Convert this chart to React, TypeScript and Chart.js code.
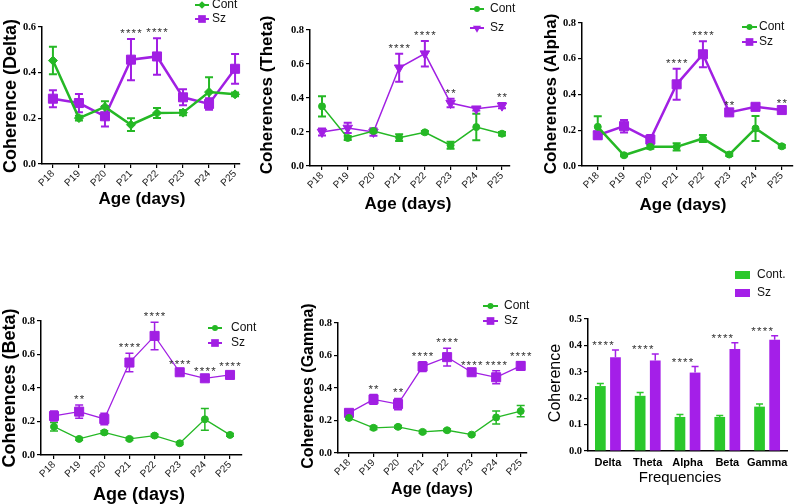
import React, { useEffect, useRef } from 'react';
import { Chart, registerables } from 'chart.js';
Chart.register(...registerables);

// ---------- DATA ----------
const ages = ['P18', 'P19', 'P20', 'P21', 'P22', 'P23', 'P24', 'P25'];

const deltaCont = [0.453, 0.201, 0.25, 0.172, 0.223, 0.225, 0.315, 0.305];
const deltaContErr = [0.06, 0.01, 0.025, 0.028, 0.022, 0.012, 0.065, 0.008];
const deltaSz = [0.286, 0.267, 0.209, 0.457, 0.471, 0.292, 0.263, 0.417];
const deltaSzErr = [0.037, 0.04, 0.045, 0.09, 0.08, 0.035, 0.025, 0.065];
const deltaStars = ['', '', '', '****', '****', '', '', ''];

const thetaCont = [0.351, 0.165, 0.206, 0.167, 0.198, 0.122, 0.229, 0.19];
const thetaContErr = [0.06, 0.012, 0.01, 0.02, 0.008, 0.02, 0.078, 0.01];
const thetaSz = [0.2, 0.224, 0.2, 0.578, 0.661, 0.37, 0.337, 0.355];
const thetaSzErr = [0.02, 0.03, 0.022, 0.083, 0.075, 0.025, 0.01, 0.015];
const thetaStars = ['', '', '', '****', '****', '**', '', '**'];

const alphaCont = [0.219, 0.06, 0.107, 0.107, 0.154, 0.064, 0.21, 0.11];
const alphaContErr = [0.06, 0.006, 0.01, 0.02, 0.02, 0.008, 0.07, 0.008];
const alphaSz = [0.172, 0.223, 0.148, 0.457, 0.625, 0.3, 0.331, 0.313];
const alphaSzErr = [0.02, 0.035, 0.025, 0.087, 0.073, 0.01, 0.008, 0.008];
const alphaStars = ['', '', '', '****', '****', '**', '', '**'];

const betaCont = [0.169, 0.096, 0.135, 0.096, 0.116, 0.07, 0.213, 0.12];
const betaContErr = [0.025, 0.008, 0.01, 0.008, 0.008, 0.008, 0.065, 0.008];
const betaSz = [0.233, 0.259, 0.215, 0.552, 0.711, 0.494, 0.458, 0.478];
const betaSzErr = [0.03, 0.04, 0.035, 0.055, 0.082, 0.012, 0.01, 0.015];
const betaStars = ['', '**', '', '****', '****', '****', '****', '****'];

const gammaCont = [0.216, 0.155, 0.161, 0.13, 0.14, 0.113, 0.219, 0.258];
const gammaContErr = [0.01, 0.01, 0.008, 0.008, 0.008, 0.006, 0.04, 0.035];
const gammaSz = [0.247, 0.33, 0.301, 0.532, 0.59, 0.497, 0.466, 0.536];
const gammaSzErr = [0.015, 0.03, 0.035, 0.03, 0.055, 0.01, 0.04, 0.025];
const gammaStars = ['', '**', '**', '****', '****', '****', '****', '****'];

const bands = ['Delta', 'Theta', 'Alpha', 'Beta', 'Gamma'];
const barCont = [0.246, 0.209, 0.129, 0.129, 0.168];
const barContErr = [0.01, 0.013, 0.009, 0.005, 0.01];
const barSz = [0.355, 0.343, 0.297, 0.386, 0.421];
const barSzErr = [0.028, 0.024, 0.023, 0.024, 0.016];
const barStars = ['****', '****', '****', '****', '****'];

// ---------- STYLE ----------
const GREEN = '#25b825';
const PURPLE = '#a11fe3';
const GREEN_BAR = '#2bc82b';
const PURPLE_BAR = '#a41fe8';
const SANS = '"Liberation Sans", Arial, sans-serif';
const SERIF = '"Liberation Serif", "Times New Roman", serif';

Chart.defaults.font.family = SANS;

function drawMarker(ctx: CanvasRenderingContext2D, style: string, x: number, y: number, r: number, color: string) {
  ctx.save();
  ctx.fillStyle = color;
  ctx.beginPath();
  if (style === 'rect') {
    const s = r * Math.SQRT1_2;
    ctx.rect(x - s, y - s, 2 * s, 2 * s);
  } else if (style === 'rectRot') {
    ctx.moveTo(x, y - r); ctx.lineTo(x + r, y); ctx.lineTo(x, y + r); ctx.lineTo(x - r, y); ctx.closePath();
  } else if (style === 'triangleDown') {
    const a = r * Math.sin(Math.PI / 3);
    ctx.moveTo(x, y + r); ctx.lineTo(x + a, y - r / 2); ctx.lineTo(x - a, y - r / 2); ctx.closePath();
  } else {
    ctx.arc(x, y, r, 0, Math.PI * 2);
  }
  ctx.fill();
  ctx.restore();
}

function valAt(d: any) { return typeof d === 'number' ? d : d.y; }

function drawErrors(chart: any, o: any) {
  const ctx = chart.ctx;
  const ys = chart.scales.y;
  ctx.save();
  chart.data.datasets.forEach((ds: any, i: number) => {
    const meta = chart.getDatasetMeta(i);
    const errs = o.errs[i];
    ctx.strokeStyle = o.bar ? ds.backgroundColor : ds.borderColor;
    ctx.lineWidth = o.width;
    meta.data.forEach((el: any, j: number) => {
      const v = valAt(ds.data[j]);
      const e = errs[j];
      const x = el.x;
      const top = ys.getPixelForValue(v + e);
      const bot = o.upOnly ? ys.getPixelForValue(v) : ys.getPixelForValue(v - e);
      ctx.beginPath();
      ctx.moveTo(x, bot); ctx.lineTo(x, top);
      ctx.moveTo(x - o.cap / 2, top); ctx.lineTo(x + o.cap / 2, top);
      if (!o.upOnly) { ctx.moveTo(x - o.cap / 2, bot); ctx.lineTo(x + o.cap / 2, bot); }
      ctx.stroke();
    });
  });
  ctx.restore();
}

function drawStars(chart: any, o: any) {
  const ctx = chart.ctx;
  const ys = chart.scales.y;
  const xs = chart.scales.x;
  ctx.save();
  ctx.fillStyle = '#333';
  ctx.font = `11.5px ${SANS}`;
  (ctx as any).letterSpacing = '1.2px';
  ctx.textAlign = 'center';
  ctx.textBaseline = 'alphabetic';
  o.stars.forEach((s: string, j: number) => {
    if (!s) return;
    let top = Infinity;
    chart.data.datasets.forEach((ds: any, i: number) => {
      const v = valAt(ds.data[j]) + o.errs[i][j];
      top = Math.min(top, ys.getPixelForValue(v));
    });
    const x = o.bar ? xs.getPixelForValue(j) + o.dx : chart.getDatasetMeta(1).data[j].x;
    ctx.fillText(s, x + 0.6, top - o.gap + 7);
  });
  ctx.restore();
}

const errorPlugin = {
  id: 'errorBars',
  beforeDatasetsDraw(chart: any, _a: any, o: any) { if (!o.bar) drawErrors(chart, o); },
  afterDatasetsDraw(chart: any, _a: any, o: any) {
    if (o.bar) drawErrors(chart, o);
    drawStars(chart, o);
  },
};

const decorPlugin = {
  id: 'decor',
  afterDraw(chart: any, _a: any, o: any) {
    const ctx = chart.ctx;
    const ox = o.box.left, oy = o.box.top;
    ctx.save();
    o.texts.forEach((t: any) => {
      ctx.save();
      ctx.translate(t.x - ox, t.y - oy);
      if (t.rot) ctx.rotate(-Math.PI / 2);
      ctx.font = `${t.bold ? 'bold ' : ''}${t.size}px ${SANS}`;
      ctx.fillStyle = '#000';
      ctx.textAlign = 'center';
      ctx.textBaseline = 'middle';
      ctx.fillText(t.text, 0, 0);
      ctx.restore();
    });
    const lg = o.legend;
    chart.data.datasets.forEach((ds: any, i: number) => {
      const y = lg.ys[i] - oy;
      if (lg.kind === 'box') {
        ctx.fillStyle = ds.backgroundColor;
        ctx.fillRect(lg.x - ox, y - lg.h / 2, lg.w, lg.h);
      } else {
        ctx.strokeStyle = ds.borderColor;
        ctx.lineWidth = 2;
        ctx.beginPath();
        ctx.moveTo(lg.x - ox, y); ctx.lineTo(lg.x - ox + lg.len, y);
        ctx.stroke();
        drawMarker(ctx, o.markers[i], lg.x - ox + lg.len / 2, y, o.radii[i] * 0.85, ds.borderColor);
      }
      ctx.fillStyle = '#111';
      ctx.font = `12px ${SANS}`;
      ctx.textAlign = 'left';
      ctx.textBaseline = 'middle';
      ctx.fillText(ds.label, lg.textX - ox, y);
    });
    ctx.restore();
  },
};

type Box = { left: number; top: number; width: number; height: number };
type Area = { l: number; t: number; r: number; b: number };

function axisCommon(box: Box, area: Area) {
  return {
    layout: { padding: { top: area.t - box.top, right: box.left + box.width - area.r, left: 0, bottom: 0 } },
  };
}

function yAxis(box: Box, area: Area, max: number, step: number) {
  return {
    type: 'linear', min: 0, max,
    afterFit: (s: any) => { s.width = area.l - box.left; s.paddingTop = 0; s.paddingBottom = 0; },
    grid: { display: true, drawOnChartArea: false, drawTicks: true, tickLength: 4, color: '#000', lineWidth: 1.2 },
    border: { display: true, color: '#000', width: 1.5 },
    ticks: {
      stepSize: step, padding: 2, color: '#000',
      font: { family: SERIF, weight: 'bold', size: 10.5 },
      callback: (v: any) => Number(v).toFixed(1),
    },
  };
}

function lineConfig(p: any) {
  const { box, area } = p;
  const mk = (label: string, vals: number[], color: string, style: string, r: number, lw: number) => ({
    label,
    data: vals.map((y, i) => ({ x: i, y })),
    borderColor: color,
    backgroundColor: color,
    borderWidth: lw,
    pointStyle: style === 'triangleDown' ? 'triangle' : style,
    rotation: style === 'triangleDown' ? 180 : 0,
    pointRadius: r,
    pointBackgroundColor: color,
    pointBorderColor: color,
    pointBorderWidth: 1,
    tension: 0,
    clip: false,
  });
  return {
    type: 'line',
    data: {
      datasets: [
        mk('Cont', p.cont, GREEN, p.markers[0], p.radii[0], p.lw[0]),
        mk('Sz', p.sz, PURPLE, p.markers[1], p.radii[1], p.lw[1]),
      ],
    },
    options: {
      responsive: false,
      animation: false,
      ...axisCommon(box, area),
      scales: {
        x: {
          type: 'linear', min: p.xMin, max: p.xMax,
          afterFit: (s: any) => { s.height = box.top + box.height - area.b; s.paddingLeft = 0; s.paddingRight = 0; },
          grid: { display: true, drawOnChartArea: false, drawTicks: true, tickLength: 4, color: '#000', lineWidth: 1.2 },
          border: { display: true, color: '#000', width: 1.5 },
          ticks: {
            stepSize: 1, includeBounds: false, autoSkip: false, minRotation: 45, maxRotation: 45, padding: 0,
            color: '#222', font: { family: SANS, size: 10 },
            callback: (v: any) => (Number.isInteger(v) && ages[v] ? ages[v] : ''),
          },
        },
        y: yAxis(box, area, p.yMax, 0.2),
      },
      plugins: {
        legend: { display: false },
        tooltip: { enabled: false },
        errorBars: { errs: [p.contErr, p.szErr], cap: 8, width: p.ew, upOnly: false, bar: false, stars: p.stars, gap: 9, dx: 0 },
        decor: { box, texts: p.texts, legend: p.legend, markers: p.markers, radii: p.radii },
      },
    },
    plugins: [errorPlugin, decorPlugin],
  };
}

function barConfig(p: any) {
  const { box, area } = p;
  return {
    type: 'bar',
    data: {
      labels: bands,
      datasets: [
        { label: 'Cont.', data: barCont, backgroundColor: GREEN_BAR, borderWidth: 0, categoryPercentage: 0.76, barPercentage: 0.71 },
        { label: 'Sz', data: barSz, backgroundColor: PURPLE_BAR, borderWidth: 0, categoryPercentage: 0.76, barPercentage: 0.71 },
      ],
    },
    options: {
      responsive: false,
      animation: false,
      ...axisCommon(box, area),
      scales: {
        x: {
          afterFit: (s: any) => { s.height = box.top + box.height - area.b; s.paddingLeft = 0; s.paddingRight = 0; },
          grid: { display: true, drawOnChartArea: false, drawTicks: false, color: '#000' },
          border: { display: true, color: '#000', width: 1.5 },
          ticks: {
            padding: 5, color: '#000', autoSkip: false, minRotation: 0, maxRotation: 0,
            font: { family: SANS, size: 11, weight: 'bold' },
          },
        },
        y: yAxis(box, area, 0.5, 0.1),
      },
      plugins: {
        legend: { display: false },
        tooltip: { enabled: false },
        errorBars: { errs: [barContErr, barSzErr], cap: 7, width: 1.5, upOnly: true, bar: true, stars: barStars, gap: 8, dx: -5 },
        decor: { box, texts: p.texts, legend: p.legend, markers: [], radii: [] },
      },
    },
    plugins: [errorPlugin, decorPlugin],
  };
}

const panels: any[] = [
  {
    kind: 'line', box: { left: 0, top: 0, width: 255, height: 210 }, area: { l: 42, t: 27, r: 240, b: 164 },
    xMin: -0.42, xMax: 7.19, yMax: 0.6,
    cont: deltaCont, contErr: deltaContErr, sz: deltaSz, szErr: deltaSzErr, stars: deltaStars,
    markers: ['rectRot', 'rect'], radii: [4.5, 6.4], lw: [2.5, 2.5], ew: 2,
    texts: [
      { text: 'Coherence (Delta)', x: 11, y: 96, size: 18, bold: true, rot: true },
      { text: 'Age (days)', x: 142, y: 199, size: 17, bold: true },
    ],
    legend: { kind: 'line', x: 195, len: 14, textX: 212, ys: [5, 19] },
  },
  {
    kind: 'line', box: { left: 255, top: 0, width: 286, height: 212 }, area: { l: 310, t: 30, r: 510, b: 166 },
    xMin: -0.467, xMax: 7.311, yMax: 0.8,
    cont: thetaCont, contErr: thetaContErr, sz: thetaSz, szErr: thetaSzErr, stars: thetaStars,
    markers: ['circle', 'triangleDown'], radii: [3.5, 5.5], lw: [1.5, 1.5], ew: 2,
    texts: [
      { text: 'Coherences (Theta)', x: 267, y: 95, size: 17, bold: true, rot: true },
      { text: 'Age (days)', x: 408, y: 204, size: 17, bold: true },
    ],
    legend: { kind: 'line', x: 470, len: 14, textX: 490, ys: [9, 28] },
  },
  {
    kind: 'line', box: { left: 541, top: 0, width: 259, height: 214 }, area: { l: 582, t: 23, r: 796, b: 166 },
    xMin: -0.599, xMax: 7.41, yMax: 0.8,
    cont: alphaCont, contErr: alphaContErr, sz: alphaSz, szErr: alphaSzErr, stars: alphaStars,
    markers: ['circle', 'rect'], radii: [3.5, 6.4], lw: [2.5, 2.5], ew: 2,
    texts: [
      { text: 'Coherences (Alpha)', x: 551, y: 94, size: 17, bold: true, rot: true },
      { text: 'Age (days)', x: 683, y: 205, size: 17, bold: true },
    ],
    legend: { kind: 'line', x: 742, len: 15, textX: 759, ys: [27, 42] },
  },
  {
    kind: 'line', box: { left: 0, top: 255, width: 299, height: 249 }, area: { l: 41, t: 321, r: 242, b: 455 },
    xMin: -0.517, xMax: 7.477, yMax: 0.8,
    cont: betaCont, contErr: betaContErr, sz: betaSz, szErr: betaSzErr, stars: betaStars,
    markers: ['circle', 'rect'], radii: [3.5, 6.4], lw: [1.3, 1.3], ew: 1.5,
    texts: [
      { text: 'Coherences (Beta)', x: 10, y: 388, size: 18, bold: true, rot: true },
      { text: 'Age (days)', x: 139, y: 495, size: 18, bold: true },
    ],
    legend: { kind: 'line', x: 208, len: 14, textX: 231, ys: [328, 343] },
  },
  {
    kind: 'line', box: { left: 299, top: 255, width: 247, height: 249 }, area: { l: 338, t: 323, r: 527, b: 453 },
    xMin: -0.448, xMax: 7.257, yMax: 0.8,
    cont: gammaCont, contErr: gammaContErr, sz: gammaSz, szErr: gammaSzErr, stars: gammaStars,
    markers: ['circle', 'rect'], radii: [3.5, 6.4], lw: [1.3, 1.3], ew: 1.5,
    texts: [
      { text: 'Coherences (Gamma)', x: 309, y: 386, size: 16, bold: true, rot: true },
      { text: 'Age (days)', x: 432, y: 490, size: 16, bold: true },
    ],
    legend: { kind: 'line', x: 483, len: 15, textX: 504, ys: [306, 321] },
  },
  {
    kind: 'bar', box: { left: 546, top: 255, width: 254, height: 249 }, area: { l: 588, t: 319, r: 787, b: 451 },
    texts: [
      { text: 'Coherence', x: 556, y: 383, size: 16, bold: false, rot: true },
      { text: 'Frequencies', x: 680, y: 478, size: 15, bold: false },
    ],
    legend: { kind: 'box', x: 735, w: 15, h: 8, textX: 757, ys: [275, 293] },
  },
];

function Panel({ p }: { p: any }) {
  const ref = useRef<HTMLCanvasElement>(null);
  useEffect(() => {
    const cfg: any = p.kind === 'bar' ? barConfig(p) : lineConfig(p);
    const chart = new Chart(ref.current as HTMLCanvasElement, cfg);
    return () => chart.destroy();
  }, [p]);
  const { left, top, width, height } = p.box;
  return (
    <canvas
      ref={ref}
      width={width}
      height={height}
      style={{ position: 'absolute', left, top, width, height }}
    />
  );
}

export default function App() {
  return (
    <div style={{ position: 'absolute', left: 0, top: 0, width: 800, height: 504, overflow: 'hidden', background: '#fff' }}>
      {panels.map((p, i) => <Panel key={i} p={p} />)}
    </div>
  );
}
